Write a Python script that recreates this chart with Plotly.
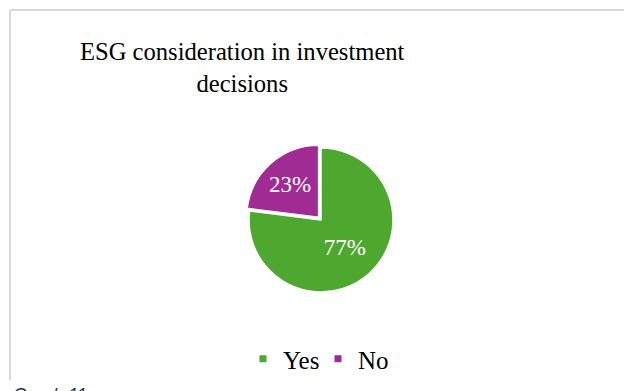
import plotly.graph_objects as go

# Survey responses: does ESG factor into investment decisions?
labels = ["Yes", "No"]
shares = [77, 23]
colors = ["#4EA72E", "#A02B93"]
pulls = [0, 0.05]

W, H = 624, 391
cx, cy, r = 321, 220, 72          # pie centre / radius in pixels
half = r * (1 + max(pulls))       # plotly shrinks the pie by the largest pull

fig = go.Figure()

fig.add_trace(go.Pie(
    labels=labels,
    values=shares,
    sort=False,
    direction="clockwise",
    rotation=0,
    pull=pulls,
    marker=dict(colors=colors, line=dict(color="white", width=1.5)),
    texttemplate="%{percent:.0%}",
    textposition="inside",
    insidetextorientation="horizontal",
    textfont=dict(family="Liberation Serif", size=23, color="white"),
    hoverinfo="label+percent",
    showlegend=False,
    domain=dict(x=[(cx - half) / W, (cx + half) / W],
                y=[(H - cy - half) / H, (H - cy + half) / H]),
))

# Small square legend keys
for lab, col in zip(labels, colors):
    fig.add_trace(go.Scatter(
        x=[None], y=[None], mode="markers", name=lab,
        marker=dict(symbol="square", size=7, color=col),
        showlegend=True, hoverinfo="skip",
    ))

fig.update_layout(
    width=W, height=H,
    margin=dict(l=0, r=0, t=0, b=0),
    paper_bgcolor="white",
    plot_bgcolor="white",
    xaxis=dict(visible=False),
    yaxis=dict(visible=False),
    showlegend=True,
    legend=dict(
        orientation="h",
        x=318 / W, xanchor="center",
        y=(H - 359) / H, yanchor="middle",
        font=dict(family="Liberation Serif", size=25, color="black"),
        itemwidth=30,
        entrywidth=30,
        tracegroupgap=0,
        bgcolor="rgba(0,0,0,0)",
    ),
    annotations=[
        dict(
            text="ESG consideration in investment<br>decisions",
            x=242 / W, y=1 - 36 / H, xref="paper", yref="paper",
            xanchor="center", yanchor="top", showarrow=False, align="center",
            font=dict(family="Liberation Serif", size=24.6, color="black"),
        ),
        dict(
            text="<i>Graph 11</i>",
            x=11 / W, y=1 - 383 / H, xref="paper", yref="paper",
            xanchor="left", yanchor="top", showarrow=False,
            font=dict(family="Liberation Sans", size=18, color="#1F3864"),
        ),
    ],
    shapes=[
        # chart frame (left and top edges visible)
        dict(type="line", xref="paper", yref="paper",
             x0=10 / W, x1=10 / W, y0=1 - 380 / H, y1=1 - 10 / H,
             line=dict(color="#D9D9D9", width=2)),
        dict(type="line", xref="paper", yref="paper",
             x0=10 / W, x1=1, y0=1 - 10 / H, y1=1 - 10 / H,
             line=dict(color="#D9D9D9", width=2)),
    ],
)

fig.write_html("out.html")
